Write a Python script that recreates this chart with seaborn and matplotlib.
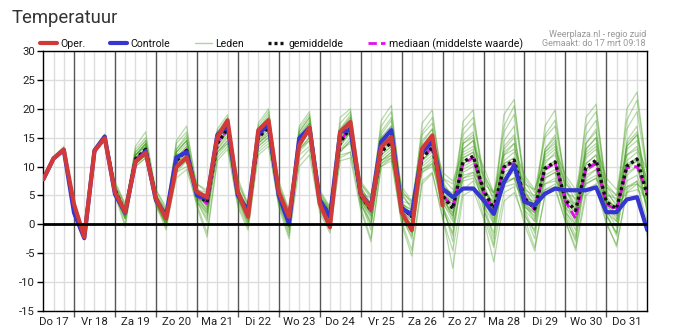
import numpy as np
import pandas as pd
import matplotlib
matplotlib.use("Agg")
import matplotlib.pyplot as plt
from matplotlib.lines import Line2D
import seaborn as sns

# ---------------- data ----------------
# time axis: hours since Do 17 00:00, every 6 hours, 06:00 Do 17 .. 00:00 Vr 1
hours = list(range(6, 361, 6))
day_labels = ["Do 17", "Vr 18", "Za 19", "Zo 20", "Ma 21", "Di 22", "Wo 23", "Do 24",
              "Vr 25", "Za 26", "Zo 27", "Ma 28", "Di 29", "Wo 30", "Do 31"]
y_ticks = [-15, -10, -5, 0, 5, 10, 15, 20, 25, 30]

oper = [7.8, 11.4, 12.9,
        3.5, -2.2, 12.7, 14.9, 5.6, 2.1, 10.8, 12.4, 4.5, 1.0, 9.9, 11.6,
        5.6, 4.7, 15.1, 18.0, 5.6, 1.3, 16.3, 18.0, 5.6, 1.3, 13.7, 16.7,
        3.6, -0.5, 16.0, 17.7, 5.3, 2.7, 13.4, 15.1, 2.1, -1.0, 13.1, 15.4,
        3.3]
controle = [7.8, 11.4, 12.9,
            2.0, -2.4, 12.8, 15.2, 5.2, 2.0, 10.8, 12.6, 4.2, 1.5, 11.6, 12.5,
            5.0, 4.5, 15.5, 17.2, 5.0, 2.4, 15.7, 17.2, 5.0, 0.1, 14.9, 16.7,
            4.2, 1.3, 16.0, 16.3, 5.3, 3.0, 14.3, 16.3, 2.7, 1.8, 12.5, 14.3,
            6.2, 4.7, 6.2, 6.2, 4.2, 1.8, 7.3, 10.2, 3.9, 3.3, 5.3, 6.2,
            5.9, 5.9, 5.9, 6.4, 2.1, 2.1, 4.3, 4.7, -1.0]
gemiddelde = [7.8, 11.4, 12.9,
              3.0, -2.0, 12.7, 15.0, 6.0, 2.0, 11.3, 13.0, 4.5, 1.3, 11.0, 12.8,
              5.2, 3.8, 14.0, 16.5, 5.5, 1.8, 15.0, 16.8, 5.0, 0.8, 14.3, 16.5,
              4.0, 1.8, 14.2, 16.7, 5.0, 2.5, 12.5, 14.2, 3.0, 1.3, 11.5, 13.3,
              5.0, 2.7, 10.8, 11.8, 5.9, 2.7, 9.9, 11.1, 4.5, 2.7, 9.7, 10.8,
              4.2, 2.4, 9.8, 11.1, 3.9, 2.7, 10.1, 11.3, 5.0]
mediaan = [7.8, 11.4, 12.9,
           3.0, -2.0, 12.7, 15.0, 6.0, 2.0, 11.2, 12.9, 4.5, 1.2, 11.2, 12.9,
           5.0, 3.6, 14.2, 16.6, 5.4, 1.6, 15.2, 16.9, 5.0, 0.6, 14.4, 16.6,
           4.0, 1.6, 14.4, 16.8, 5.0, 2.3, 12.7, 14.3, 3.0, 1.2, 11.6, 13.4,
           5.0, 3.0, 10.5, 11.5, 5.5, 2.5, 10.2, 10.5, 4.8, 2.5, 9.5, 10.6,
           4.0, 1.0, 9.5, 10.5, 3.5, 2.5, 9.8, 10.0, 5.5]

lid_01 = [7.9, 11.6, 13.2, 3.5, -1.8, 12.9, 15.3, 6.5, 2.5, 12.0, 14.0, 5.0, 2.0, 12.5, 14.5,
          6.0, 4.5, 15.0, 17.5, 6.5, 2.5, 16.0, 18.0, 6.0, 1.5, 15.5, 18.0, 5.0, 2.5, 16.0, 18.5,
          6.5, 3.5, 15.0, 17.0, 5.0, 3.0, 14.5, 16.5, 7.0, 5.0, 14.0, 15.5, 8.0, 4.5, 13.0, 15.0,
          6.5, 4.0, 12.5, 14.0, 6.0, 3.5, 13.0, 15.0, 5.5, 3.5, 14.0, 16.0, 7.0]
lid_02 = [7.7, 11.2, 12.7, 2.0, -2.4, 12.5, 14.7, 5.0, 1.0, 10.5, 12.0, 3.5, 0.5, 9.5, 11.0,
          4.0, 2.0, 12.5, 14.5, 4.5, 0.5, 13.5, 15.0, 4.0, -0.5, 12.5, 14.5, 3.0, 0.5, 12.5, 14.5,
          3.5, 0.0, 10.5, 12.0, 1.5, -1.5, 9.0, 10.5, 3.0, -0.5, 8.0, 9.0, 3.5, 0.0, 7.0, 8.0,
          2.5, 0.5, 7.0, 8.0, 2.0, 0.0, 7.5, 8.5, 2.0, 0.5, 7.5, 8.5, 3.0]
lid_03 = [8.0, 11.7, 13.5, 4.0, -1.5, 13.0, 15.6, 7.0, 3.0, 13.0, 15.0, 6.0, 2.5, 14.0, 16.0,
          7.0, 5.5, 16.0, 18.5, 7.5, 3.0, 17.0, 19.5, 7.0, 2.0, 16.5, 19.0, 5.5, 2.5, 17.5, 19.5,
          7.0, 4.5, 17.0, 19.5, 6.0, 3.5, 16.0, 18.5, 8.0, 6.0, 16.5, 18.5, 9.0, 5.0, 17.0, 20.5,
          8.0, 5.5, 15.5, 18.0, 8.0, 5.0, 17.0, 19.5, 7.0, 5.0, 18.0, 21.5, 9.0]
lid_04 = [7.6, 11.1, 12.6, 1.5, -2.5, 12.3, 14.6, 5.5, 0.0, 10.0, 11.5, 3.0, 0.0, 8.0, 9.5,
          3.5, -1.5, 11.5, 13.5, 3.5, -0.5, 12.5, 14.0, 3.5, -2.0, 11.0, 13.0, 2.5, -1.0, 11.5, 12.5,
          3.0, -2.5, 10.0, 11.5, 0.5, -4.5, 7.5, 9.0, 1.5, -7.6, 5.0, 6.0, 1.0, -6.5, 4.0, 5.5,
          1.0, -4.0, 5.0, 6.0, 0.5, -4.5, 5.0, 6.5, 0.0, -3.5, 5.5, 7.0, 0.5]
lid_05 = [7.8, 11.5, 13.0, 3.0, -2.2, 12.8, 15.2, 6.0, 1.5, 11.8, 13.8, 4.0, 0.5, 12.0, 14.0,
          5.0, 2.5, 15.5, 17.5, 5.0, 1.0, 16.5, 18.5, 4.5, -0.5, 15.0, 17.5, 3.5, 0.5, 15.5, 18.0,
          4.5, 1.0, 14.0, 16.0, 2.0, -1.0, 13.0, 15.0, 4.0, 0.5, 13.0, 14.5, 5.0, 0.0, 12.5, 14.0,
          3.5, 0.5, 12.0, 13.5, 3.0, 0.0, 12.5, 14.0, 3.0, 0.5, 13.0, 14.5, 5.5]
lid_06 = [7.8, 11.3, 12.8, 3.5, -1.5, 12.5, 14.8, 6.5, 3.0, 10.5, 12.0, 5.0, 2.5, 10.0, 11.5,
          6.0, 5.0, 12.5, 14.0, 6.0, 3.0, 13.5, 15.0, 5.5, 2.0, 13.0, 14.5, 4.5, 3.0, 13.0, 14.0,
          5.5, 4.5, 11.0, 12.0, 4.0, 3.5, 9.5, 10.5, 6.0, 5.5, 8.5, 9.0, 7.0, 5.5, 7.5, 8.0,
          6.0, 5.0, 7.0, 7.5, 5.5, 4.5, 7.0, 8.0, 5.0, 4.5, 6.5, 7.0, 5.5]
lid_07 = [7.9, 11.5, 13.1, 2.5, -2.0, 12.9, 15.1, 5.5, 2.0, 12.5, 14.5, 4.5, 1.0, 13.0, 15.0,
          5.5, 3.0, 14.5, 16.0, 5.0, 2.0, 15.5, 17.5, 5.0, 1.0, 14.5, 16.5, 4.0, 2.0, 14.5, 17.0,
          5.5, 3.0, 12.0, 13.5, 3.5, 2.5, 12.0, 14.0, 6.0, 4.0, 12.0, 13.0, 6.0, 3.5, 11.0, 12.5,
          5.5, 3.0, 10.5, 12.5, 5.0, 2.5, 11.5, 13.0, 4.5, 2.5, 12.0, 13.5, 6.0]
lid_08 = [7.7, 11.4, 12.9, 3.0, -2.1, 12.6, 14.9, 6.0, 2.0, 11.0, 12.5, 4.5, 1.5, 10.5, 12.5,
          5.0, 4.0, 13.5, 16.0, 6.0, 2.5, 14.5, 16.0, 5.5, 1.5, 14.0, 16.0, 4.0, 1.0, 13.5, 16.0,
          4.0, 1.5, 11.5, 13.0, 2.0, 0.0, 10.5, 12.0, 3.5, 1.5, 9.5, 10.5, 4.5, 2.0, 9.0, 10.0,
          3.5, 2.0, 8.5, 9.5, 3.5, 1.5, 8.5, 9.5, 3.0, 2.0, 9.0, 10.0, 4.0]
lid_09 = [7.8, 11.5, 13.1, 3.5, -1.9, 12.8, 15.1, 6.5, 2.5, 12.0, 13.5, 5.0, 1.5, 11.5, 13.5,
          5.5, 3.0, 14.5, 17.0, 5.5, 2.0, 15.5, 17.5, 5.0, 0.5, 15.0, 17.5, 4.5, 2.0, 15.0, 17.5,
          6.0, 3.0, 14.0, 15.5, 3.0, 1.0, 12.5, 14.5, 4.5, 1.5, 11.5, 12.5, 4.0, 1.0, 8.5, 9.5,
          3.0, 1.5, 8.0, 9.0, 2.5, -1.0, 9.0, 10.5, 2.5, -0.5, 9.5, 11.0, 2.0]
lid_10 = [7.7, 11.3, 12.8, 2.5, -2.3, 12.6, 14.8, 5.0, 1.0, 11.0, 12.5, 4.0, 0.0, 10.0, 12.0,
          4.5, 2.5, 13.0, 15.5, 5.0, 1.0, 14.0, 16.0, 4.5, 0.0, 13.5, 16.0, 3.5, 1.0, 13.5, 16.0,
          4.5, 2.0, 13.0, 15.0, 3.5, 1.5, 12.5, 14.5, 5.5, 3.5, 13.0, 14.5, 6.5, 3.5, 12.0, 14.0,
          5.5, 3.5, 13.0, 15.5, 6.0, 3.0, 14.0, 16.0, 6.0, 3.0, 13.5, 15.5, 7.0]
lid_11 = [7.8, 11.4, 13.0, 4.0, -1.7, 12.7, 15.0, 7.0, 3.5, 11.5, 13.0, 5.5, 2.0, 11.0, 12.5,
          6.0, 5.5, 14.0, 16.0, 7.0, 3.5, 15.0, 16.5, 6.5, 2.5, 14.5, 16.0, 5.5, 3.0, 14.0, 16.5,
          7.0, 5.0, 13.0, 14.5, 5.5, 4.0, 12.0, 13.0, 8.0, 7.0, 11.0, 11.5, 8.5, 5.5, 10.5, 11.5,
          7.0, 6.0, 11.0, 12.0, 7.0, 5.5, 10.5, 12.0, 6.5, 5.0, 10.5, 11.5, 8.0]
lid_12 = [7.8, 11.4, 12.9, 2.5, -2.1, 12.7, 15.0, 5.5, 1.5, 11.0, 12.5, 4.0, 1.0, 11.5, 13.0,
          4.5, 3.5, 14.0, 16.5, 4.5, 1.0, 15.0, 17.0, 4.5, 0.5, 14.5, 17.0, 3.5, 1.5, 14.0, 16.5,
          4.5, 2.0, 12.5, 14.5, 2.5, 0.5, 11.0, 13.0, 4.5, 2.0, 10.5, 11.5, 5.0, 2.0, 9.5, 11.0,
          4.0, 2.0, 9.5, 11.0, 4.0, 2.0, 9.5, 11.0, 3.5, 2.0, 10.0, 11.5, 5.0]
lid_13 = [7.9, 11.6, 13.3, 3.0, -2.0, 13.0, 15.4, 5.5, 1.0, 12.5, 14.5, 4.0, -0.5, 13.0, 15.5,
          4.0, 1.0, 16.0, 18.0, 4.5, 0.0, 16.5, 19.0, 4.0, -1.5, 16.0, 18.5, 3.0, -0.5, 16.5, 19.0,
          4.0, -1.0, 15.5, 18.0, 1.5, -2.5, 14.0, 16.5, 3.0, -2.0, 14.5, 16.0, 4.0, -2.5, 14.5, 17.0,
          2.5, -1.5, 13.0, 15.0, 2.0, -2.0, 14.0, 16.5, 1.5, -1.5, 14.5, 17.0, 3.5]
lid_14 = [7.7, 11.2, 12.7, 3.5, -1.8, 12.4, 14.7, 6.0, 2.5, 10.0, 11.5, 4.5, 2.0, 9.0, 10.0,
          5.0, 4.5, 12.0, 14.0, 5.0, 2.5, 13.0, 14.5, 5.0, 1.5, 12.0, 13.5, 4.5, 2.5, 12.0, 12.5,
          5.0, 3.5, 10.5, 11.5, 3.5, 2.5, 9.0, 10.0, 5.0, 4.0, 8.0, 8.5, 5.5, 4.0, 6.5, 7.0,
          4.5, 4.0, 6.0, 6.5, 4.5, 3.5, 6.0, 6.5, 4.0, 3.0, 5.5, 6.0, 4.5]
lid_15 = [7.8, 11.5, 13.0, 3.0, -2.0, 12.8, 15.0, 6.0, 2.0, 11.5, 13.0, 4.5, 1.0, 11.0, 13.0,
          5.5, 3.5, 14.5, 17.0, 5.5, 1.5, 15.5, 17.0, 5.0, 0.5, 14.5, 16.5, 4.0, 1.5, 14.5, 17.0,
          5.0, 2.5, 13.0, 15.0, 3.0, 1.0, 12.0, 14.0, 5.0, 2.5, 11.5, 12.5, 6.0, 3.0, 10.5, 11.5,
          4.5, 2.5, 10.0, 11.0, 4.0, 2.0, 10.5, 12.0, 4.0, 2.5, 11.0, 12.5, 6.5]
lid_16 = [7.9, 11.5, 13.0, 3.5, -1.9, 12.9, 15.2, 6.5, 2.0, 12.0, 14.0, 5.0, 1.5, 12.5, 14.5,
          6.0, 4.0, 15.0, 17.5, 6.5, 2.0, 16.5, 18.5, 6.0, 1.0, 16.0, 18.5, 5.0, 2.0, 16.5, 18.5,
          6.5, 3.5, 16.0, 18.5, 5.5, 2.5, 15.5, 17.5, 7.5, 4.5, 15.5, 17.5, 8.5, 4.0, 16.0, 19.0,
          7.5, 4.5, 15.0, 17.0, 7.5, 4.0, 15.5, 18.0, 6.5, 4.0, 16.5, 19.5, 8.5]
lid_17 = [7.7, 11.3, 12.8, 2.0, -2.3, 12.6, 14.8, 5.5, 1.0, 10.5, 12.0, 3.5, 0.0, 10.5, 12.0,
          4.0, 0.5, 13.0, 15.0, 4.0, 0.0, 14.0, 15.5, 3.5, -1.0, 13.0, 15.0, 3.0, 0.0, 13.0, 15.0,
          3.5, 0.5, 11.0, 12.5, 1.0, -2.0, 9.5, 11.0, 2.5, -1.5, 9.0, 10.0, 2.5, -1.5, 8.0, 9.0,
          1.5, -1.0, 8.0, 9.0, 1.0, -2.5, 8.0, 9.5, 1.5, -1.5, 8.5, 10.0, 2.5]
lid_18 = [7.8, 11.4, 12.9, 3.0, -2.0, 12.7, 15.0, 6.0, 2.0, 11.5, 13.0, 4.5, 1.5, 11.5, 13.5,
          5.0, 3.5, 14.0, 16.5, 5.5, 2.0, 15.0, 17.0, 5.0, 1.0, 14.5, 16.5, 4.0, 2.0, 14.5, 17.0,
          5.0, 2.5, 12.5, 14.0, 3.0, 1.5, 11.0, 13.0, 5.0, 3.0, 10.0, 11.0, 6.0, 3.0, 10.0, 11.0,
          4.5, 3.0, 9.5, 10.5, 4.5, 2.5, 9.5, 11.0, 4.0, 3.0, 10.0, 11.5, 5.0]
lid_19 = [7.8, 11.6, 13.2, 3.5, -2.1, 12.9, 15.3, 6.0, 1.5, 12.0, 14.0, 4.0, 0.5, 12.5, 14.5,
          5.0, 2.0, 15.0, 17.0, 5.5, 1.0, 16.0, 18.0, 5.0, 0.0, 15.5, 17.5, 4.0, 1.0, 16.0, 18.0,
          5.0, 1.5, 15.0, 17.0, 3.0, -0.5, 13.5, 15.5, 5.0, 1.0, 14.0, 15.0, 5.5, 0.5, 13.5, 15.5,
          4.0, 1.0, 12.5, 14.5, 4.0, 0.5, 13.0, 15.0, 3.5, 1.0, 13.5, 15.5, 5.5]
lid_20 = [7.7, 11.3, 12.8, 2.5, -2.2, 12.5, 14.8, 5.5, 2.0, 10.5, 12.0, 4.0, 1.0, 10.0, 11.5,
          5.0, 4.0, 12.5, 14.5, 5.0, 1.5, 14.0, 15.5, 4.5, 0.5, 13.0, 15.0, 3.5, 1.5, 12.5, 14.5,
          4.5, 2.0, 11.0, 12.5, 2.5, 0.5, 10.0, 11.5, 4.0, 2.0, 7.5, 8.0, 4.5, 2.5, 7.0, 8.0,
          3.0, 2.0, 6.0, 7.0, 3.0, 1.0, 7.0, 8.0, 2.5, 1.5, 6.5, 7.5, 3.5]
lid_21 = [7.9, 11.5, 13.0, 4.0, -1.5, 12.8, 15.1, 7.5, 3.5, 12.0, 13.5, 6.0, 3.0, 11.5, 13.0,
          7.0, 5.9, 15.5, 17.0, 8.0, 3.5, 16.0, 17.5, 7.5, 2.5, 15.0, 17.0, 6.0, 3.0, 15.0, 17.5,
          7.5, 5.0, 14.0, 15.5, 6.5, 4.0, 13.5, 15.0, 9.0, 7.5, 12.5, 13.5, 10.0, 5.5, 12.0, 13.0,
          8.5, 6.0, 11.5, 13.0, 8.5, 6.0, 12.0, 13.5, 8.0, 6.0, 12.0, 13.0, 9.5]
lid_22 = [7.6, 11.2, 12.6, 1.5, -2.5, 12.4, 14.6, 5.0, -0.5, 11.0, 13.0, 3.5, -1.0, 9.0, 11.0,
          3.0, -2.2, 11.0, 13.0, 3.0, -1.0, 12.0, 13.5, 3.0, -2.5, 10.0, 12.0, 2.0, -1.5, 11.0, 11.5,
          2.5, -3.0, 10.0, 11.0, 0.0, -5.5, 7.0, 8.8, 1.0, -4.5, 6.0, 7.5, 1.5, -4.0, 5.5, 6.5,
          0.0, -4.6, 5.0, 6.5, 0.5, -4.0, 6.0, 7.0, 0.5, -3.9, 6.0, 7.5, -2.0]
lid_23 = [7.8, 11.5, 13.1, 3.0, -1.9, 12.9, 15.3, 6.0, 2.5, 13.5, 16.0, 5.0, 1.5, 14.5, 17.0,
          5.5, 3.5, 16.5, 19.0, 6.0, 2.0, 17.5, 20.0, 5.5, 1.5, 17.0, 19.5, 4.5, 2.5, 18.5, 20.0,
          6.0, 3.0, 18.0, 20.6, 4.0, 1.5, 17.5, 19.8, 6.5, 3.0, 17.8, 19.8, 7.0, 2.5, 19.0, 21.6,
          6.0, 3.0, 17.0, 19.8, 6.0, 2.5, 18.5, 20.8, 5.0, 2.5, 20.0, 22.9, 9.0]
lid_24 = [7.8, 11.4, 12.9, 3.0, -2.0, 12.7, 14.9, 6.0, 1.5, 11.0, 12.5, 4.0, 0.0, 10.5, 12.5,
          4.5, 1.5, 13.5, 16.0, 5.0, 0.5, 14.5, 16.5, 4.5, -0.5, 14.0, 16.0, 3.5, 0.5, 14.0, 16.0,
          4.5, 0.0, 12.0, 13.5, 2.0, -1.5, 11.0, 12.5, 3.5, -3.0, 10.5, 11.5, 3.0, -3.5, 10.0, 11.0,
          2.0, -2.5, 9.5, 10.5, 1.5, -3.0, 9.5, 11.0, 2.0, -2.0, 10.0, 11.0, 2.0]

leden = [lid_01, lid_02, lid_03, lid_04, lid_05, lid_06, lid_07, lid_08, lid_09, lid_10,
         lid_11, lid_12, lid_13, lid_14, lid_15, lid_16, lid_17, lid_18, lid_19, lid_20,
         lid_21, lid_22, lid_23, lid_24]

# ---------------- tables ----------------
ens_df = pd.DataFrame({
    "uur": np.tile(hours, len(leden)),
    "temp": np.concatenate([np.asarray(m, float) for m in leden]),
    "lid": np.repeat(np.arange(len(leden)), len(hours)),
})
main_df = pd.DataFrame({"uur": hours, "controle": controle,
                        "gemiddelde": gemiddelde, "mediaan": mediaan})
oper_df = pd.DataFrame({"uur": hours[:len(oper)], "oper": oper})

# ---------------- style ----------------
sns.set_theme(style="white")
plt.rcParams["font.family"] = ["Roboto", "DejaVu Sans"]

W, H = 677, 334
fig = plt.figure(figsize=(W / 100, H / 100), dpi=100)
ax = fig.add_axes([43.3 / W, 1 - 311 / H, (647.3 - 43.3) / W, (311 - 51) / H])

C_ENS = "#3a9a10"
C_OPER = "#d23a3a"
C_CTRL = "#3535d0"
C_MED = "#e010e8"

sns.lineplot(data=ens_df, x="uur", y="temp", units="lid", estimator=None,
             color=C_ENS, alpha=0.36, lw=0.9, ax=ax, legend=False, zorder=3)
sns.lineplot(data=main_df, x="uur", y="mediaan", color=C_MED, lw=2.0,
             ax=ax, zorder=4, legend=False)
ax.lines[-1].set_dashes((3, 1.5))
sns.lineplot(data=main_df, x="uur", y="gemiddelde", color="#111111", lw=2.4,
             ax=ax, zorder=5, legend=False)
ax.lines[-1].set_dashes((0.9, 0.9))
sns.lineplot(data=main_df, x="uur", y="controle", color=C_CTRL, lw=3.0,
             ax=ax, zorder=6, legend=False)
sns.lineplot(data=oper_df, x="uur", y="oper", color=C_OPER, lw=3.0,
             ax=ax, zorder=7, legend=False)

ax.axhline(0, color="black", lw=2.0, zorder=8)

# axes
ax.set_xlim(6, 360)
ax.set_ylim(-15, 30)
ax.set_xlabel("")
ax.set_ylabel("")
ax.set_yticks(y_ticks)
ax.set_yticklabels([str(v) for v in y_ticks])
ax.tick_params(axis="y", length=4, width=1, color="black", labelsize=8.2,
               labelcolor="#222222", pad=2, left=True)

midnights = list(range(24, 360, 24))
noons = [12 + 24 * k for k in range(len(day_labels))]
ax.set_xticks(midnights)
ax.set_xticklabels([])
ax.tick_params(axis="x", which="major", length=4, width=1, color="#555555",
               bottom=True)
ax.set_xticks(noons, minor=True)
ax.set_xticklabels(day_labels, minor=True)
ax.tick_params(axis="x", which="minor", length=0, labelsize=8.2,
               labelcolor="#222222", pad=4)

ax.set_axisbelow(True)
ax.grid(False)
six_hours = [h for h in range(12, 360, 6) if h % 24 != 0]
ax.vlines(six_hours, -15, 30, color="#dddddd", lw=1, zorder=0)
ax.vlines(midnights, -15, 30, color="#555555", lw=1, zorder=1)
ax.hlines(y_ticks, 6, 360, color="#dddddd", lw=1, zorder=0)

for s in ax.spines.values():
    s.set_color("black")
    s.set_linewidth(1)
    s.set_visible(True)

# title and captions
fig.text(12 / W, 1 - 18 / H, "Temperatuur", fontsize=13.3, color="#333333",
         va="center", ha="left")
fig.text(646 / W, 1 - 34.5 / H, "Weerplaza.nl - regio zuid", fontsize=6.5,
         color="#999999", ha="right", va="center")
fig.text(646 / W, 1 - 44 / H, "Gemaakt: do 17 mrt 09:18", fontsize=6.5,
         color="#999999", ha="right", va="center")

handles = [
    Line2D([], [], color=C_OPER, lw=3),
    Line2D([], [], color=C_CTRL, lw=3),
    Line2D([], [], color="#a9d99a", lw=1),
    Line2D([], [], color="#111111", lw=2.4, dashes=(0.9, 0.9)),
    Line2D([], [], color=C_MED, lw=2.0, dashes=(3, 1.5)),
]
labels = ["Oper.", "Controle", "Leden", "gemiddelde", "mediaan (middelste waarde)"]
fig.legend(handles, labels, loc="center left", bbox_to_anchor=(40 / W, 1 - 44 / H),
           ncol=5, frameon=False, fontsize=7.6, handlelength=1.6,
           handletextpad=0.35, columnspacing=2.3, borderpad=0, borderaxespad=0,
           labelcolor="#111111")

fig.savefig("out.png", dpi=100)
